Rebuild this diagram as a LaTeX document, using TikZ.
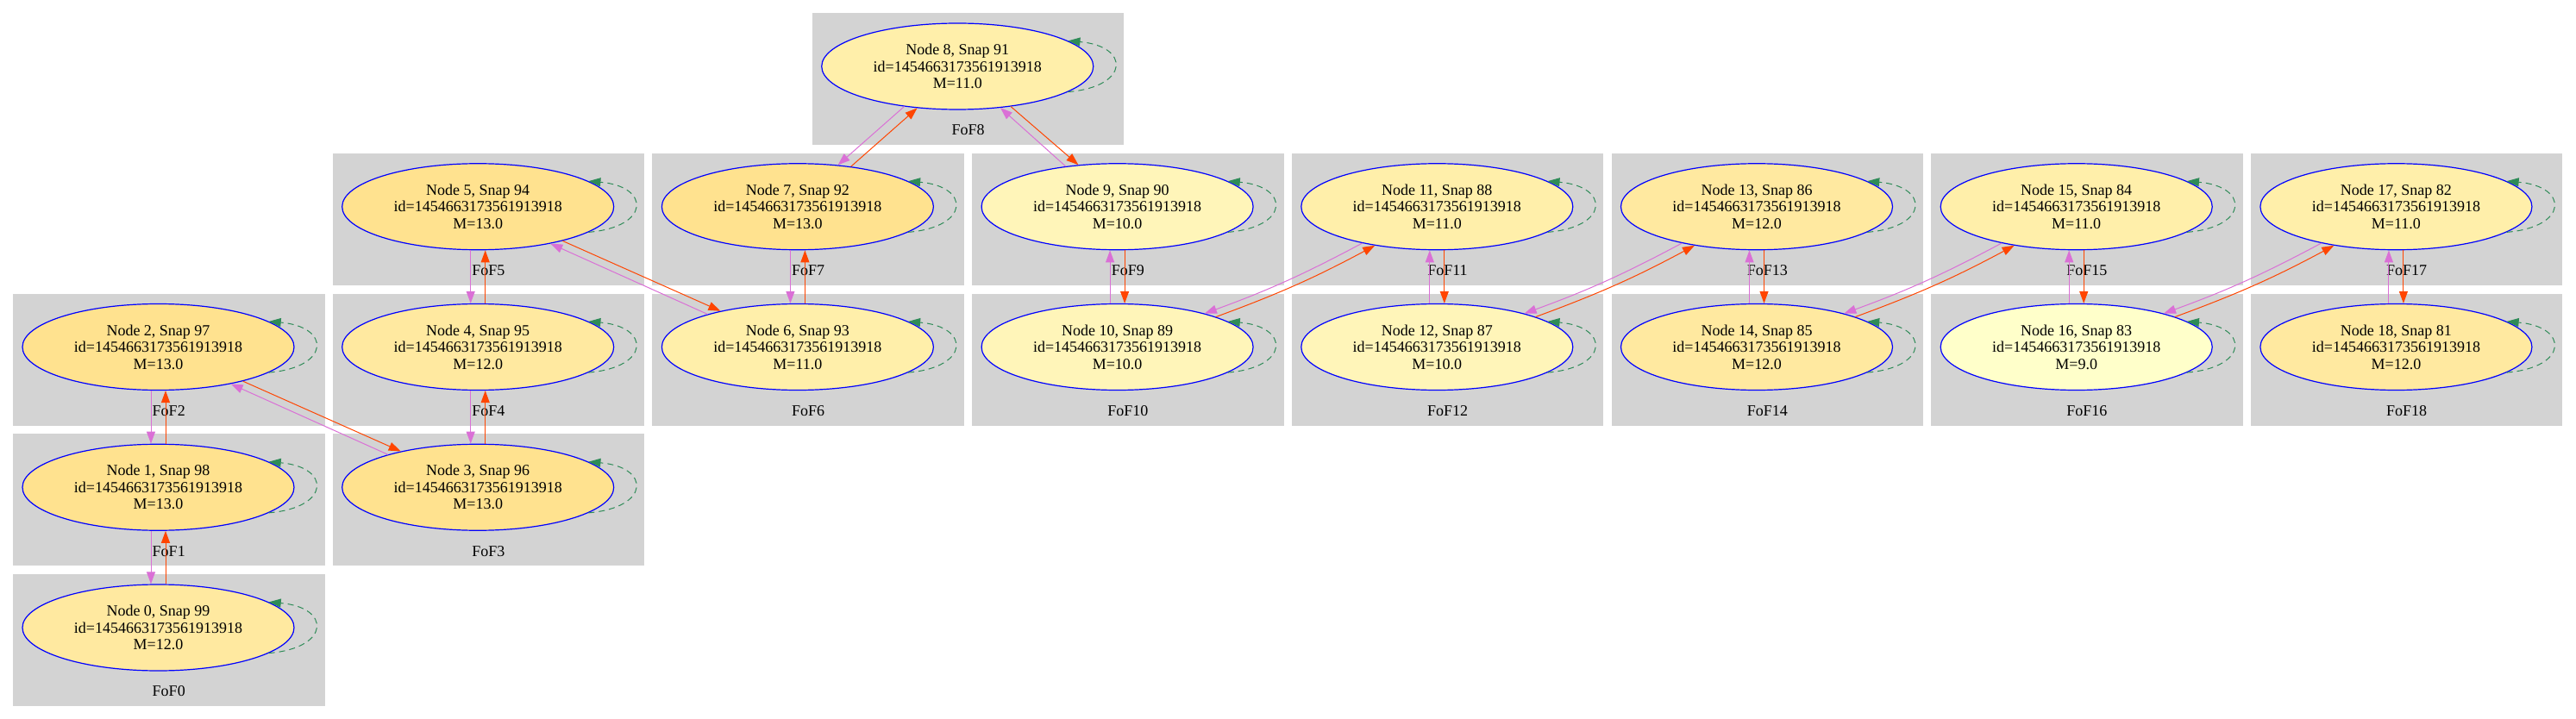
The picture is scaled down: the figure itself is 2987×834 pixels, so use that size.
\documentclass[tikz,border=0pt]{standalone}
\usepackage{fontspec}
\setmainfont{Liberation Serif}
\usetikzlibrary{calc,arrows.meta,shapes.geometric}

\definecolor{mass13}{RGB}{255,226,143}
\definecolor{mass12}{RGB}{255,233,160}
\definecolor{mass11}{RGB}{255,239,170}
\definecolor{mass10}{RGB}{255,245,185}
\definecolor{mass9}{RGB}{255,255,202}
\definecolor{fofgrey}{RGB}{211,211,211}
\definecolor{orchidpink}{RGB}{218,112,214}
\definecolor{redorange}{RGB}{255,69,0}
\definecolor{loopgreen}{RGB}{46,139,87}

\begin{document}
\begin{tikzpicture}[x=1pt,y=-1pt,
    fofbg/.style={fill=fofgrey},
    snapnode/.style={ellipse,draw=blue,line width=1.2pt,minimum width=315pt,minimum height=100pt,
      inner sep=0pt,align=center,font=\fontsize{18}{19.6}\selectfont},
    foflabel/.style={font=\fontsize{18}{19.6}\selectfont},
    tonext/.style={draw=redorange,line width=1pt,-{Triangle[length=14pt,width=10pt]}},
    toprev/.style={draw=orchidpink,line width=1pt,-{Triangle[length=14pt,width=10pt]}},
    selfloop/.style={draw=loopgreen,line width=1pt,dash pattern=on 7pt off 5pt,-{Triangle[length=14pt,width=10pt]}}]
    \useasboundingbox (-15,-15) rectangle (2972,819);

    % top left corners of the FoF boxes
    \coordinate (c0) at ($0*(370.7,0)+4*(0,162.75)$);
    \coordinate (c1) at ($0*(370.7,0)+3*(0,162.75)$);
    \coordinate (c2) at ($0*(370.7,0)+2*(0,162.75)$);
    \coordinate (c3) at ($1*(370.7,0)+3*(0,162.75)$);
    \coordinate (c4) at ($1*(370.7,0)+2*(0,162.75)$);
    \coordinate (c5) at ($1*(370.7,0)+1*(0,162.75)$);
    \coordinate (c6) at ($2*(370.7,0)+2*(0,162.75)$);
    \coordinate (c7) at ($2*(370.7,0)+1*(0,162.75)$);
    \coordinate (c8) at ($2.5*(370.7,0)+0*(0,162.75)$);
    \coordinate (c9) at ($3*(370.7,0)+1*(0,162.75)$);
    \coordinate (c10) at ($3*(370.7,0)+2*(0,162.75)$);
    \coordinate (c11) at ($4*(370.7,0)+1*(0,162.75)$);
    \coordinate (c12) at ($4*(370.7,0)+2*(0,162.75)$);
    \coordinate (c13) at ($5*(370.7,0)+1*(0,162.75)$);
    \coordinate (c14) at ($5*(370.7,0)+2*(0,162.75)$);
    \coordinate (c15) at ($6*(370.7,0)+1*(0,162.75)$);
    \coordinate (c16) at ($6*(370.7,0)+2*(0,162.75)$);
    \coordinate (c17) at ($7*(370.7,0)+1*(0,162.75)$);
    \coordinate (c18) at ($7*(370.7,0)+2*(0,162.75)$);

    % boxes and their labels
    \fill[fofbg] (c0) rectangle +(361.5,153);
    \node[foflabel] (l0) at ($(c0)+(180.75,136)$) {FoF0};
    \fill[fofbg] (c1) rectangle +(361.5,153);
    \node[foflabel] (l1) at ($(c1)+(180.75,136)$) {FoF1};
    \fill[fofbg] (c2) rectangle +(361.5,153);
    \node[foflabel] (l2) at ($(c2)+(180.75,136)$) {FoF2};
    \fill[fofbg] (c3) rectangle +(361.5,153);
    \node[foflabel] (l3) at ($(c3)+(180.75,136)$) {FoF3};
    \fill[fofbg] (c4) rectangle +(361.5,153);
    \node[foflabel] (l4) at ($(c4)+(180.75,136)$) {FoF4};
    \fill[fofbg] (c5) rectangle +(361.5,153);
    \node[foflabel] (l5) at ($(c5)+(180.75,136)$) {FoF5};
    \fill[fofbg] (c6) rectangle +(361.5,153);
    \node[foflabel] (l6) at ($(c6)+(180.75,136)$) {FoF6};
    \fill[fofbg] (c7) rectangle +(361.5,153);
    \node[foflabel] (l7) at ($(c7)+(180.75,136)$) {FoF7};
    \fill[fofbg] (c8) rectangle +(361.5,153);
    \node[foflabel] (l8) at ($(c8)+(180.75,136)$) {FoF8};
    \fill[fofbg] (c9) rectangle +(361.5,153);
    \node[foflabel] (l9) at ($(c9)+(180.75,136)$) {FoF9};
    \fill[fofbg] (c10) rectangle +(361.5,153);
    \node[foflabel] (l10) at ($(c10)+(180.75,136)$) {FoF10};
    \fill[fofbg] (c11) rectangle +(361.5,153);
    \node[foflabel] (l11) at ($(c11)+(180.75,136)$) {FoF11};
    \fill[fofbg] (c12) rectangle +(361.5,153);
    \node[foflabel] (l12) at ($(c12)+(180.75,136)$) {FoF12};
    \fill[fofbg] (c13) rectangle +(361.5,153);
    \node[foflabel] (l13) at ($(c13)+(180.75,136)$) {FoF13};
    \fill[fofbg] (c14) rectangle +(361.5,153);
    \node[foflabel] (l14) at ($(c14)+(180.75,136)$) {FoF14};
    \fill[fofbg] (c15) rectangle +(361.5,153);
    \node[foflabel] (l15) at ($(c15)+(180.75,136)$) {FoF15};
    \fill[fofbg] (c16) rectangle +(361.5,153);
    \node[foflabel] (l16) at ($(c16)+(180.75,136)$) {FoF16};
    \fill[fofbg] (c17) rectangle +(361.5,153);
    \node[foflabel] (l17) at ($(c17)+(180.75,136)$) {FoF17};
    \fill[fofbg] (c18) rectangle +(361.5,153);
    \node[foflabel] (l18) at ($(c18)+(180.75,136)$) {FoF18};

    % the halos
    \node[snapnode,fill=mass12] (n0) at ($(c0)+(168.5,62)$) {Node 0, Snap 99\\id=1454663173561913918\\M=12.0};
    \node[snapnode,fill=mass13] (n1) at ($(c1)+(168.5,62)$) {Node 1, Snap 98\\id=1454663173561913918\\M=13.0};
    \node[snapnode,fill=mass13] (n2) at ($(c2)+(168.5,62)$) {Node 2, Snap 97\\id=1454663173561913918\\M=13.0};
    \node[snapnode,fill=mass13] (n3) at ($(c3)+(168.5,62)$) {Node 3, Snap 96\\id=1454663173561913918\\M=13.0};
    \node[snapnode,fill=mass12] (n4) at ($(c4)+(168.5,62)$) {Node 4, Snap 95\\id=1454663173561913918\\M=12.0};
    \node[snapnode,fill=mass13] (n5) at ($(c5)+(168.5,62)$) {Node 5, Snap 94\\id=1454663173561913918\\M=13.0};
    \node[snapnode,fill=mass11] (n6) at ($(c6)+(168.5,62)$) {Node 6, Snap 93\\id=1454663173561913918\\M=11.0};
    \node[snapnode,fill=mass13] (n7) at ($(c7)+(168.5,62)$) {Node 7, Snap 92\\id=1454663173561913918\\M=13.0};
    \node[snapnode,fill=mass11] (n8) at ($(c8)+(168.5,62)$) {Node 8, Snap 91\\id=1454663173561913918\\M=11.0};
    \node[snapnode,fill=mass10] (n9) at ($(c9)+(168.5,62)$) {Node 9, Snap 90\\id=1454663173561913918\\M=10.0};
    \node[snapnode,fill=mass10] (n10) at ($(c10)+(168.5,62)$) {Node 10, Snap 89\\id=1454663173561913918\\M=10.0};
    \node[snapnode,fill=mass11] (n11) at ($(c11)+(168.5,62)$) {Node 11, Snap 88\\id=1454663173561913918\\M=11.0};
    \node[snapnode,fill=mass10] (n12) at ($(c12)+(168.5,62)$) {Node 12, Snap 87\\id=1454663173561913918\\M=10.0};
    \node[snapnode,fill=mass12] (n13) at ($(c13)+(168.5,62)$) {Node 13, Snap 86\\id=1454663173561913918\\M=12.0};
    \node[snapnode,fill=mass12] (n14) at ($(c14)+(168.5,62)$) {Node 14, Snap 85\\id=1454663173561913918\\M=12.0};
    \node[snapnode,fill=mass11] (n15) at ($(c15)+(168.5,62)$) {Node 15, Snap 84\\id=1454663173561913918\\M=11.0};
    \node[snapnode,fill=mass9] (n16) at ($(c16)+(168.5,62)$) {Node 16, Snap 83\\id=1454663173561913918\\M=9.0};
    \node[snapnode,fill=mass11] (n17) at ($(c17)+(168.5,62)$) {Node 17, Snap 82\\id=1454663173561913918\\M=11.0};
    \node[snapnode,fill=mass12] (n18) at ($(c18)+(168.5,62)$) {Node 18, Snap 81\\id=1454663173561913918\\M=12.0};

    % self loops
    \draw[selfloop] (n0.-13) .. controls +(72,-6) and +(72,6) .. (n0.13);
    \draw[selfloop] (n1.-13) .. controls +(72,-6) and +(72,6) .. (n1.13);
    \draw[selfloop] (n2.-13) .. controls +(72,-6) and +(72,6) .. (n2.13);
    \draw[selfloop] (n3.-13) .. controls +(72,-6) and +(72,6) .. (n3.13);
    \draw[selfloop] (n4.-13) .. controls +(72,-6) and +(72,6) .. (n4.13);
    \draw[selfloop] (n5.-13) .. controls +(72,-6) and +(72,6) .. (n5.13);
    \draw[selfloop] (n6.-13) .. controls +(72,-6) and +(72,6) .. (n6.13);
    \draw[selfloop] (n7.-13) .. controls +(72,-6) and +(72,6) .. (n7.13);
    \draw[selfloop] (n8.-13) .. controls +(72,-6) and +(72,6) .. (n8.13);
    \draw[selfloop] (n9.-13) .. controls +(72,-6) and +(72,6) .. (n9.13);
    \draw[selfloop] (n10.-13) .. controls +(72,-6) and +(72,6) .. (n10.13);
    \draw[selfloop] (n11.-13) .. controls +(72,-6) and +(72,6) .. (n11.13);
    \draw[selfloop] (n12.-13) .. controls +(72,-6) and +(72,6) .. (n12.13);
    \draw[selfloop] (n13.-13) .. controls +(72,-6) and +(72,6) .. (n13.13);
    \draw[selfloop] (n14.-13) .. controls +(72,-6) and +(72,6) .. (n14.13);
    \draw[selfloop] (n15.-13) .. controls +(72,-6) and +(72,6) .. (n15.13);
    \draw[selfloop] (n16.-13) .. controls +(72,-6) and +(72,6) .. (n16.13);
    \draw[selfloop] (n17.-13) .. controls +(72,-6) and +(72,6) .. (n17.13);
    \draw[selfloop] (n18.-13) .. controls +(72,-6) and +(72,6) .. (n18.13);

    % links inside one column
    \draw[toprev] ($(n1.south)+(-8.5,0)$) -- ($(n0.north)+(-8.5,0)$);
    \draw[tonext] ($(n0.north)+(8.5,0)$) -- ($(n1.south)+(8.5,0)$);
    \draw[toprev] ($(n2.south)+(-8.5,0)$) -- ($(n1.north)+(-8.5,0)$);
    \draw[tonext] ($(n1.north)+(8.5,0)$) -- ($(n2.south)+(8.5,0)$);
    \draw[toprev] ($(n4.south)+(-8.5,0)$) -- ($(n3.north)+(-8.5,0)$);
    \draw[tonext] ($(n3.north)+(8.5,0)$) -- ($(n4.south)+(8.5,0)$);
    \draw[toprev] ($(n5.south)+(-8.5,0)$) -- ($(n4.north)+(-8.5,0)$);
    \draw[tonext] ($(n4.north)+(8.5,0)$) -- ($(n5.south)+(8.5,0)$);
    \draw[toprev] ($(n7.south)+(-8.5,0)$) -- ($(n6.north)+(-8.5,0)$);
    \draw[tonext] ($(n6.north)+(8.5,0)$) -- ($(n7.south)+(8.5,0)$);
    \draw[toprev] ($(n10.north)+(-8.5,0)$) -- ($(n9.south)+(-8.5,0)$);
    \draw[tonext] ($(n9.south)+(8.5,0)$) -- ($(n10.north)+(8.5,0)$);
    \draw[toprev] ($(n12.north)+(-8.5,0)$) -- ($(n11.south)+(-8.5,0)$);
    \draw[tonext] ($(n11.south)+(8.5,0)$) -- ($(n12.north)+(8.5,0)$);
    \draw[toprev] ($(n14.north)+(-8.5,0)$) -- ($(n13.south)+(-8.5,0)$);
    \draw[tonext] ($(n13.south)+(8.5,0)$) -- ($(n14.north)+(8.5,0)$);
    \draw[toprev] ($(n16.north)+(-8.5,0)$) -- ($(n15.south)+(-8.5,0)$);
    \draw[tonext] ($(n15.south)+(8.5,0)$) -- ($(n16.north)+(8.5,0)$);
    \draw[toprev] ($(n18.north)+(-8.5,0)$) -- ($(n17.south)+(-8.5,0)$);
    \draw[tonext] ($(n17.south)+(8.5,0)$) -- ($(n18.north)+(8.5,0)$);

    % links across columns
    \draw[tonext] (n2.-22) -- (n3.155);
    \draw[toprev] (n3.160) -- (n2.-27);
    \draw[tonext] (n5.-22) -- (n6.155);
    \draw[toprev] (n6.160) -- (n5.-27);
    \draw[tonext] (n7.37) -- (n8.226);
    \draw[toprev] (n8.217) -- (n7.46);
    \draw[tonext] (n8.-37) -- (n9.133);
    \draw[toprev] (n9.142) -- (n8.-44);
    \draw[tonext] (n10.17) to[bend right=4] (n11.212);
    \draw[toprev] (n11.206) to[bend left=4] (n10.21);
    \draw[tonext] (n12.17) to[bend right=4] (n13.212);
    \draw[toprev] (n13.206) to[bend left=4] (n12.21);
    \draw[tonext] (n14.17) to[bend right=4] (n15.212);
    \draw[toprev] (n15.206) to[bend left=4] (n14.21);
    \draw[tonext] (n16.17) to[bend right=4] (n17.212);
    \draw[toprev] (n17.206) to[bend left=4] (n16.21);
\end{tikzpicture}
\end{document}
